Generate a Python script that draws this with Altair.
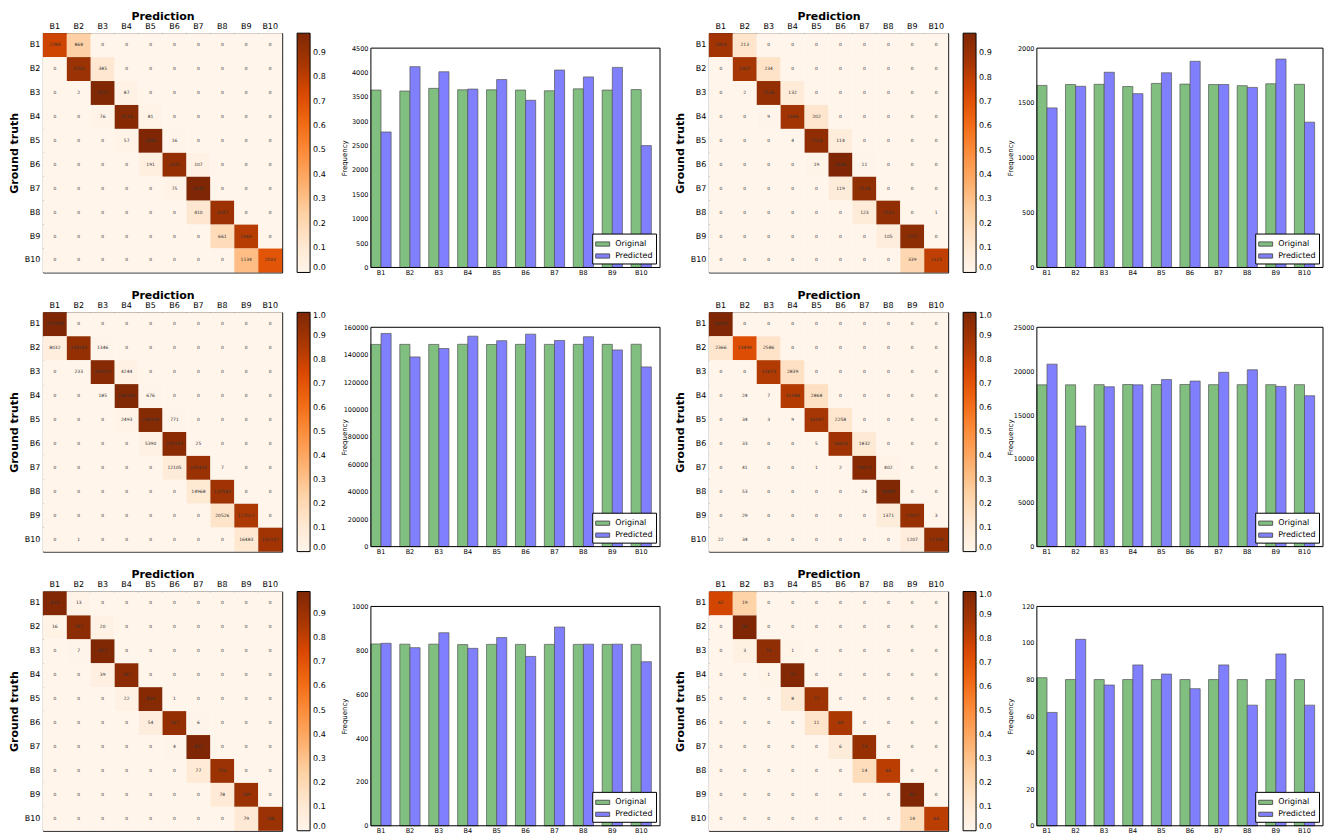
import altair as alt
import pandas as pd

cats = ["B1", "B2", "B3", "B4", "B5", "B6", "B7", "B8", "B9", "B10"]
series_names = ["Original", "Predicted"]

# ---------- confusion matrices (rows = ground truth, cols = prediction) ----------
cm_a = [
    [2784, 868, 0, 0, 0, 0, 0, 0, 0, 0],
    [0, 3250, 385, 0, 0, 0, 0, 0, 0, 0],
    [0, 2, 3552, 87, 0, 0, 0, 0, 0, 0],
    [0, 0, 76, 3514, 81, 0, 0, 0, 0, 0],
    [0, 0, 0, 57, 3580, 16, 0, 0, 0, 0],
    [0, 0, 0, 0, 191, 3341, 107, 0, 0, 0],
    [0, 0, 0, 0, 0, 75, 3540, 0, 0, 0],
    [0, 0, 0, 0, 0, 0, 410, 3247, 0, 0],
    [0, 0, 0, 0, 0, 0, 0, 661, 2969, 0],
    [0, 0, 0, 0, 0, 0, 0, 0, 1134, 2503],
]
cm_b = [
    [1454, 213, 0, 0, 0, 0, 0, 0, 0, 0],
    [0, 1437, 234, 0, 0, 0, 0, 0, 0, 0],
    [0, 2, 1536, 132, 0, 0, 0, 0, 0, 0],
    [0, 0, 9, 1448, 202, 0, 0, 0, 0, 0],
    [0, 0, 0, 4, 1554, 114, 0, 0, 0, 0],
    [0, 0, 0, 0, 19, 1644, 11, 0, 0, 0],
    [0, 0, 0, 0, 0, 119, 1534, 0, 0, 0],
    [0, 0, 0, 0, 0, 0, 123, 1531, 0, 1],
    [0, 0, 0, 0, 0, 0, 0, 105, 1557, 0],
    [0, 0, 0, 0, 0, 0, 0, 0, 339, 1323],
]
cm_c = [
    [147508, 0, 0, 0, 0, 0, 0, 0, 0, 0],
    [8032, 138181, 1346, 0, 0, 0, 0, 0, 0, 0],
    [0, 233, 143031, 4244, 0, 0, 0, 0, 0, 0],
    [0, 0, 185, 146766, 676, 0, 0, 0, 0, 0],
    [0, 0, 0, 2493, 144168, 771, 0, 0, 0, 0],
    [0, 0, 0, 0, 5390, 142145, 25, 0, 0, 0],
    [0, 0, 0, 0, 0, 12105, 135424, 7, 0, 0],
    [0, 0, 0, 0, 0, 0, 14968, 132583, 0, 0],
    [0, 0, 0, 0, 0, 0, 0, 20526, 127011, 0],
    [0, 1, 0, 0, 0, 0, 0, 0, 16483, 131137],
]
cm_d = [
    [18410, 0, 0, 0, 0, 0, 0, 0, 0, 0],
    [2366, 13490, 2586, 0, 0, 0, 0, 0, 0, 0],
    [0, 0, 15623, 2839, 0, 0, 0, 0, 0, 0],
    [0, 24, 7, 15588, 2868, 0, 0, 0, 0, 0],
    [0, 34, 3, 9, 16167, 2258, 0, 0, 0, 0],
    [0, 33, 0, 0, 5, 16610, 1832, 0, 0, 0],
    [0, 41, 0, 0, 1, 2, 18013, 402, 0, 0],
    [0, 53, 0, 0, 0, 0, 26, 18382, 0, 0],
    [0, 29, 0, 0, 0, 0, 0, 1371, 17057, 3],
    [22, 34, 0, 0, 0, 0, 0, 0, 1207, 17196],
]
cm_e = [
    [816, 13, 0, 0, 0, 0, 0, 0, 0, 0],
    [16, 792, 20, 0, 0, 0, 0, 0, 0, 0],
    [0, 7, 821, 0, 0, 0, 0, 0, 0, 0],
    [0, 0, 39, 787, 0, 0, 0, 0, 0, 0],
    [0, 0, 0, 22, 804, 1, 0, 0, 0, 0],
    [0, 0, 0, 0, 54, 767, 6, 0, 0, 0],
    [0, 0, 0, 0, 0, 4, 823, 0, 0, 0],
    [0, 0, 0, 0, 0, 0, 77, 750, 0, 0],
    [0, 0, 0, 0, 0, 0, 0, 78, 749, 0],
    [0, 0, 0, 0, 0, 0, 0, 0, 79, 748],
]
cm_f = [
    [62, 19, 0, 0, 0, 0, 0, 0, 0, 0],
    [0, 80, 0, 0, 0, 0, 0, 0, 0, 0],
    [0, 3, 76, 1, 0, 0, 0, 0, 0, 0],
    [0, 0, 1, 79, 0, 0, 0, 0, 0, 0],
    [0, 0, 0, 8, 72, 0, 0, 0, 0, 0],
    [0, 0, 0, 0, 11, 69, 0, 0, 0, 0],
    [0, 0, 0, 0, 0, 6, 74, 0, 0, 0],
    [0, 0, 0, 0, 0, 0, 14, 66, 0, 0],
    [0, 0, 0, 0, 0, 0, 0, 0, 80, 0],
    [0, 0, 0, 0, 0, 0, 0, 0, 14, 66],
]

# ---------- bar charts: original vs predicted frequencies ----------
orig_a = [3640, 3620, 3675, 3645, 3645, 3640, 3625, 3665, 3640, 3650]
pred_a = [2780, 4120, 4015, 3660, 3855, 3430, 4050, 3910, 4105, 2500]
orig_b = [1660, 1668, 1670, 1650, 1678, 1672, 1668, 1658, 1675, 1670]
pred_b = [1455, 1652, 1780, 1585, 1775, 1880, 1668, 1642, 1900, 1325]
orig_c = [147500, 147550, 147500, 147600, 147450, 147550, 147530, 147550, 147540, 147620]
pred_c = [155500, 138400, 144500, 153500, 150200, 155000, 150400, 153100, 143500, 131100]
orig_d = [18440, 18440, 18460, 18480, 18470, 18480, 18460, 18460, 18460, 18460]
pred_d = [20800, 13740, 18220, 18440, 19040, 18870, 19870, 20160, 18260, 17200]
orig_e = [829, 828, 828, 826, 827, 827, 827, 827, 827, 827]
pred_e = [832, 812, 880, 809, 858, 772, 906, 828, 828, 748]
orig_f = [81, 80, 80, 80, 80, 80, 80, 80, 80, 80]
pred_f = [62, 102, 77, 88, 83, 75, 88, 66, 94, 66]

ticks_a = list(range(0, 4501, 500))
ticks_b = list(range(0, 2001, 500))
ticks_c = list(range(0, 160001, 20000))
ticks_d = list(range(0, 25001, 5000))
ticks_e = list(range(0, 1001, 200))
ticks_f = list(range(0, 121, 20))

# matplotlib "Oranges" colormap stops
oranges = ["#fff5eb", "#fee6ce", "#fdd0a2", "#fdae6b", "#fd8d3c",
           "#f16913", "#d94801", "#a63603", "#7f2704"]

FONT = "DejaVu Sans"
CM_SIZE = 240
BAR_TOP = 15      # gap between matrix top and bar-plot top
BAR_H = 220       # bar plot height


def heatmap(mat):
    rows = []
    for i, t in enumerate(cats):
        s = sum(mat[i])
        for j, p in enumerate(cats):
            rows.append({"truth": t, "pred": p, "count": mat[i][j], "norm": mat[i][j] / s})
    df = pd.DataFrame(rows)
    vmax = float(df["norm"].max())
    n_ticks = 11 if vmax >= 0.999 else 10
    cb_vals = [round(0.1 * k, 1) for k in range(n_ticks)]
    stops = [vmax * k / (len(oranges) - 1) for k in range(len(oranges))]
    base = alt.Chart(df).encode(
        x=alt.X("pred:N", sort=cats,
                scale=alt.Scale(paddingInner=0, paddingOuter=0),
                axis=alt.Axis(orient="top", title="Prediction", labelAngle=0,
                              labelFontSize=8, labelPadding=3, ticks=False, domain=False,
                              titleFontSize=11, titleFontWeight="bold", titlePadding=1)),
        y=alt.Y("truth:N", sort=cats,
                scale=alt.Scale(paddingInner=0, paddingOuter=0),
                axis=alt.Axis(title="Ground truth", labelFontSize=8, labelPadding=3,
                              ticks=False, domain=False, minExtent=19, maxExtent=19,
                              titleFontSize=11, titleFontWeight="bold", titlePadding=4)),
    )
    rect = base.mark_rect().encode(
        color=alt.Color("norm:Q",
                        scale=alt.Scale(domain=stops, range=oranges, interpolate="rgb"),
                        legend=alt.Legend(orient="right", offset=15, title=None,
                                          direction="vertical",
                                          gradientLength=CM_SIZE, gradientThickness=13,
                                          gradientStrokeColor="black", gradientStrokeWidth=1,
                                          values=cb_vals, format=".1f", labelFontSize=8,
                                          labelOffset=3, labelOverlap=False, padding=0))
    )
    text = base.mark_text(fontSize=4.5, color="#333333").encode(
        text=alt.Text("count:Q", format="d")
    )
    return alt.layer(rect, text).properties(width=CM_SIZE, height=CM_SIZE)


def barchart(orig, pred, ticks, width):
    df = pd.DataFrame({
        "cat": cats * 2,
        "series": [series_names[0]] * len(cats) + [series_names[1]] * len(cats),
        "value": orig + pred,
    })
    ymax = ticks[-1]
    ytop = ymax * (BAR_TOP + BAR_H) / BAR_H   # empty strip above the frame
    yscale = alt.Scale(domain=[0, ytop], nice=False, zero=True)
    yaxis = alt.Axis(values=ticks, format="d", title="Frequency", grid=False,
                     labelFontSize=6.5, labelPadding=3, ticks=False, domain=False,
                     labelOverlap=False, labelFlush=False,
                     minExtent=20, maxExtent=20, titleFontSize=7,
                     titleFontWeight="normal", titlePadding=3,
                     titleY=BAR_TOP + BAR_H / 2)
    bars = alt.Chart(df).mark_bar(stroke="#555555", strokeWidth=1, strokeOpacity=0.7).encode(
        x=alt.X("cat:N", sort=cats,
                scale=alt.Scale(paddingInner=0.3, paddingOuter=0.15, align=0),
                axis=alt.Axis(title=None, labelAngle=0, labelFontSize=6.5, labelPadding=2,
                              ticks=False, domain=False)),
        xOffset=alt.XOffset("series:N", sort=series_names,
                            scale=alt.Scale(paddingInner=0, paddingOuter=0)),
        y=alt.Y("value:Q", scale=yscale, axis=yaxis),
        color=alt.Color("series:N",
                        scale=alt.Scale(domain=series_names, range=["#80bf80", "#8080ff"]),
                        legend=alt.Legend(orient="bottom-right", offset=4, title=None,
                                          strokeColor="black", fillColor="white", padding=3,
                                          symbolType="M-1,-0.3H1V0.3H-1Z", symbolSize=196,
                                          symbolStrokeColor="#555555", symbolStrokeWidth=1,
                                          symbolOpacity=1, labelFontSize=8, rowPadding=0,
                                          labelOffset=5)),
    )
    frame_df = pd.DataFrame({"top": [ymax], "bottom": [0]})
    frame = alt.Chart(frame_df).mark_rect(fill="transparent", stroke="black", strokeWidth=1).encode(
        x=alt.value(0), x2=alt.value(width),
        y=alt.Y("top:Q", scale=yscale, axis=yaxis), y2=alt.Y2("bottom:Q"),
    )
    return alt.layer(bars, frame).properties(
        width=width, height=BAR_TOP + BAR_H,
        view=alt.ViewBackground(stroke="transparent"),
    )


def row(cm1, o1, p1, t1, cm2, o2, p2, t2):
    return alt.hconcat(
        heatmap(cm1), barchart(o1, p1, t1, 290),
        heatmap(cm2), barchart(o2, p2, t2, 287),
        spacing=13,
    ).resolve_scale(color="independent", x="independent", y="independent").resolve_legend(color="independent")


chart = alt.vconcat(
    row(cm_a, orig_a, pred_a, ticks_a, cm_b, orig_b, pred_b, ticks_b),
    row(cm_c, orig_c, pred_c, ticks_c, cm_d, orig_d, pred_d, ticks_d),
    row(cm_e, orig_e, pred_e, ticks_e, cm_f, orig_f, pred_f, ticks_f),
    spacing=12,
    padding=0,
    background="white",
).resolve_scale(color="independent", x="independent", y="independent").resolve_legend(
    color="independent"
).configure(font=FONT).configure_view(stroke="black", strokeWidth=1)

chart.save("out.html", embed_options={"renderer": "svg", "actions": False})
